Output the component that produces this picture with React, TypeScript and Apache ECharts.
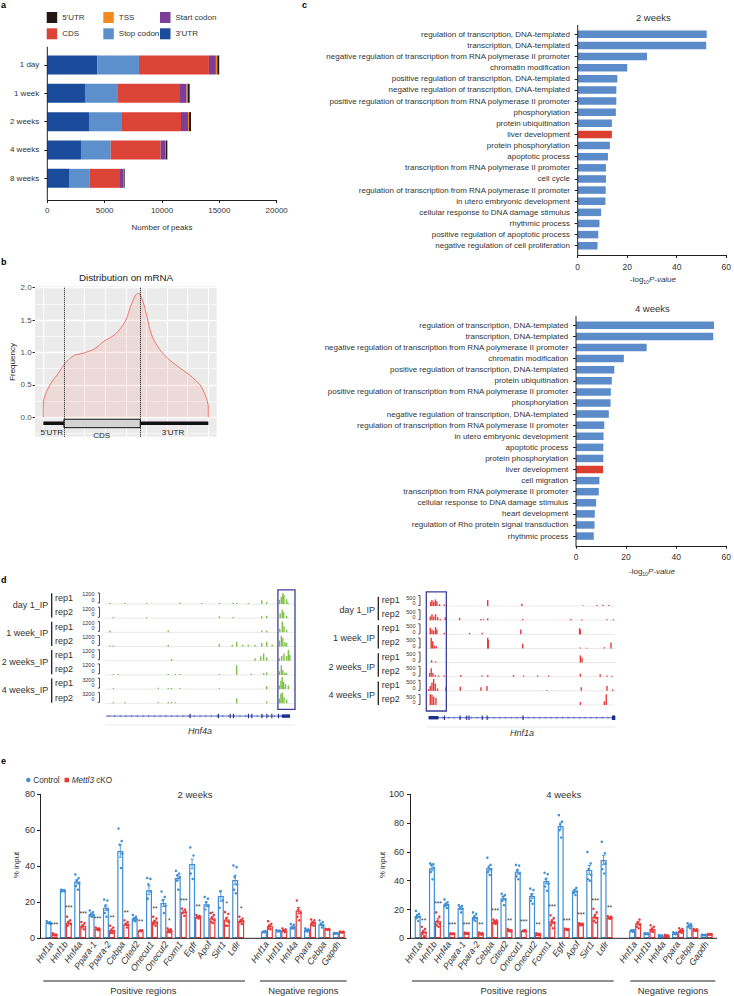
import React, { useEffect, useRef } from "react";
import * as echarts from "echarts";

const FONT = "'Liberation Sans', Arial, Helvetica, sans-serif";
const TXT = "#333333";
const INK = "#231f20";

/* ---------------- panel a : peaks per region ---------------- */
const peakGroups = ["1 day", "1 week", "2 weeks", "4 weeks", "8 weeks"];
const utr3Peaks = [4360, 3285, 3634, 2936, 1948];
const stopCodonPeaks = [3630, 2878, 2878, 2587, 1715];
const cdsPeaks = [6100, 5407, 5145, 4361, 2674];
const startCodonPeaks = [610, 581, 610, 378, 291];
const tssPeaks = [120, 87, 88, 58, 29];
const utr5Peaks = [170, 175, 174, 145, 87];
const peakAxisMax = 20000;
const peakAxisStep = 5000;

/* ---------------- panel b : distribution on mRNA ---------------- */
const densityX = [0, 0, 0.32, 0.73, 1.0, 1.46, 1.94, 2.5, 2.92, 3.48, 3.97, 4.29, 4.57, 4.69, 4.93, 5.25, 5.66, 6.14, 6.63, 7.1, 7.6, 7.85, 8.0, 8.0];
const densityY = [0, 0.22, 0.5, 0.68, 0.81, 0.95, 0.99, 1.06, 1.17, 1.28, 1.48, 1.76, 1.91, 1.9, 1.68, 1.27, 1.04, 0.88, 0.76, 0.65, 0.5, 0.34, 0.16, 0];
const mrnaBounds = [0, 1, 4.7, 8]; // transcript start, CDS start, CDS end, transcript end
const densityTicks = [0, 0.5, 1, 1.5, 2];

/* ---------------- panel c : GO terms ---------------- */
const go2wTerms = [
  "regulation of transcription, DNA-templated",
  "transcription, DNA-templated",
  "negative regulation of transcription from RNA polymerase II promoter",
  "chromatin modification",
  "positive regulation of transcription, DNA-templated",
  "negative regulation of transcription, DNA-templated",
  "positive regulation of transcription from RNA polymerase II promoter",
  "phosphorylation",
  "protein ubiquitination",
  "liver development",
  "protein phosphorylation",
  "apoptotic process",
  "transcription from RNA polymerase II promoter",
  "cell cycle",
  "regulation of transcription from RNA polymerase II promoter",
  "in utero embryonic development",
  "cellular response to DNA damage stimulus",
  "rhythmic process",
  "positive regulation of apoptotic process",
  "negative regulation of cell proliferation",
];
const go2wValues = [52.1, 51.9, 28.0, 20.0, 16.0, 15.6, 15.6, 15.4, 13.8, 13.8, 13.0, 12.2, 11.4, 11.4, 11.3, 11.2, 9.45, 8.8, 8.3, 8.0];
const go4wTerms = [
  "regulation of transcription, DNA-templated",
  "transcription, DNA-templated",
  "negative regulation of transcription from RNA polymerase II promoter",
  "chromatin modification",
  "positive regulation of transcription, DNA-templated",
  "protein ubiquitination",
  "positive regulation of transcription from RNA polymerase II promoter",
  "phosphorylation",
  "negative regulation of transcription, DNA-templated",
  "regulation of transcription from RNA polymerase II promoter",
  "in utero embryonic development",
  "apoptotic process",
  "protein phosphorylation",
  "liver development",
  "cell migration",
  "transcription from RNA polymerase II promoter",
  "cellular response to DNA damage stimulus",
  "heart development",
  "regulation of Rho protein signal transduction",
  "rhythmic process",
];
const go4wValues = [55.1, 54.8, 28.2, 19.1, 15.3, 14.3, 13.9, 13.8, 13.1, 11.3, 11.0, 10.9, 10.9, 10.8, 9.35, 9.1, 8.05, 7.5, 7.4, 7.1];
const highlightTerm = "liver development";
const goAxisMax = 60;
const goAxisStep = 20;

/* ---------------- panel d : genome tracks ---------------- */
const trackLabels = ["day 1_IP", "1 week_IP", "2 weeks_IP", "4 weeks_IP"];
const repLabels = ["rep1", "rep2"];
const hnf4aScales = ["1200", "1200", "1200", "1200", "1200", "1200", "3200", "3200"];
const hnf1aScales = ["500", "500", "500", "500", "500", "500", "500", "500"];
// [position 0-100 along locus, relative height]
const hnf4aTracks: [number, number][][] = [
  [[2.6, 0.08], [10.5, 0.08], [21.9, 0.08], [39.5, 0.1], [50.9, 0.08], [60.2, 0.08], [67.5, 0.1], [69.3, 0.08], [75.4, 0.08], [82.5, 0.3], [85.1, 0.15], [91.8, 0.35], [92.8, 0.6], [93.6, 0.9], [94.2, 0.75], [95.6, 0.4], [96.3, 0.1]],
  [[4.4, 0.1], [21.9, 0.08], [60.2, 0.15], [67.5, 0.1], [82.5, 0.15], [85.1, 0.2], [92.2, 0.4], [93.3, 0.7], [94.0, 0.5], [95.6, 0.2]],
  [[2.6, 0.15], [33.3, 0.15], [82.5, 0.15], [85.1, 0.15], [92.0, 0.3], [93.3, 0.9], [94.2, 0.5], [95.6, 0.2]],
  [[2.6, 0.1], [4.4, 0.1], [33.3, 0.15], [60.2, 0.2], [67.0, 0.15], [69.3, 0.4], [72.5, 0.15], [75.4, 0.15], [78.9, 0.15], [82.5, 0.3], [85.1, 0.4], [88.0, 0.15], [91.8, 0.5], [92.8, 0.9], [93.6, 0.7], [94.7, 0.35], [95.6, 0.3]],
  [[35.0, 0.15], [79.0, 0.2], [82.0, 0.35], [83.5, 0.6], [85.1, 0.3], [91.8, 0.2], [93.0, 0.4], [94.2, 0.6], [95.6, 0.4], [96.5, 0.9], [97.3, 0.5]],
  [[4.4, 0.08], [7.0, 0.08], [33.3, 0.08], [37.0, 0.08], [39.5, 0.08], [60.2, 0.08], [69.3, 0.8], [77.0, 0.1], [83.5, 0.15], [85.1, 0.2], [91.8, 0.3], [92.8, 0.8], [93.6, 0.4], [94.7, 0.2], [95.6, 0.15]],
  [[4.4, 0.08], [28.0, 0.12], [33.3, 0.1], [35.0, 0.1], [39.5, 0.1], [60.2, 0.08], [85.1, 0.25], [91.8, 0.3], [92.6, 0.7], [93.3, 1.0], [94.0, 0.6], [95.0, 0.4], [96.5, 0.3]],
  [[4.4, 0.08], [10.5, 0.08], [28.0, 0.1], [33.3, 0.12], [35.0, 0.12], [37.0, 0.08], [69.3, 0.4], [85.1, 0.15], [91.8, 0.4], [92.6, 0.8], [93.3, 0.9], [94.2, 0.5], [95.6, 0.3]],
];
const hnf1aTracks: [number, number][][] = [
  [[2.3, 0.35], [3.0, 0.5], [3.9, 0.35], [4.8, 0.55], [5.6, 0.4], [7.0, 0.15], [9.5, 0.12], [32.5, 0.5], [50.6, 0.2], [82.9, 0.05], [90.3, 0.08], [93.5, 0.1], [96.5, 0.08]],
  [[2.1, 0.3], [3.0, 0.5], [3.9, 0.3], [4.9, 0.5], [6.0, 0.25], [7.4, 0.1], [10.0, 0.25], [17.6, 0.2], [28.9, 0.1], [30.3, 0.08], [32.5, 0.15], [51.0, 0.1], [76.5, 0.1], [82.4, 0.08], [95.6, 0.08], [99.0, 0.08]],
  [[2.1, 0.55], [3.0, 0.4], [3.9, 0.3], [4.9, 0.6], [5.6, 0.4], [9.5, 0.12], [22.9, 0.12], [29.5, 0.12], [50.0, 0.4], [81.1, 0.5], [81.5, 0.4]],
  [[2.6, 0.9], [3.4, 0.6], [4.2, 0.25], [5.3, 0.2], [32.5, 0.9], [32.8, 0.7], [51.0, 0.4], [81.5, 0.08], [85.0, 0.05], [94.2, 0.1], [97.7, 0.5]],
  [[2.8, 0.2], [4.9, 0.1], [81.5, 0.6], [82.4, 0.4]],
  [[1.8, 0.3], [2.6, 0.7], [3.5, 0.3], [4.8, 0.15], [6.5, 0.1], [9.5, 0.1], [18.3, 0.15], [29.5, 0.1], [32.5, 0.15], [46.2, 0.15], [51.5, 0.1], [58.9, 0.1], [64.7, 0.1], [81.5, 0.25], [92.0, 0.2], [95.6, 0.1], [98.2, 0.08]],
  [[1.2, 0.15], [2.1, 0.4], [3.0, 0.7], [3.9, 1.0], [4.8, 0.6], [6.0, 0.2], [10.4, 0.3], [18.0, 0.35], [28.9, 0.3], [32.1, 0.4], [63.8, 0.08], [82.0, 0.3], [95.6, 0.4], [98.6, 0.12]],
  [[2.1, 0.9], [3.0, 0.85], [3.9, 0.7], [5.1, 0.6], [81.5, 0.25], [94.2, 0.3], [95.2, 0.9]],
];
const hnf4aSpan = [0.5, 97.4];
const hnf4aExons = [[44.5, 45.0], [59.4, 59.9], [65.6, 66.1], [67.3, 67.8], [75.2, 75.7], [77.0, 77.5], [82.3, 82.8], [84.9, 85.4], [87.5, 88.0], [91.0, 91.5], [93.0, 97.4]];
const hnf1aSpan = [1.2, 100];
const hnf1aExons = [[1.2, 6.5], [9.3, 9.9], [17.6, 18.2], [21.1, 21.6], [22.3, 22.8], [29.3, 29.8], [31.9, 32.4], [50.9, 51.4], [98.2, 100]];
const hnf4aHighlight = [91, 100];
const hnf1aHighlight = [0, 10.6];

/* ---------------- panel e : ChIP-qPCR ---------------- */
const posGenes = ["Hnf1a", "Hnf1b", "Hnf4a", "Ppara-1", "Ppara-2", "Cebpa", "Cited2", "Onecut1", "Onecut2", "Foxm1", "Egfr", "Apof", "Sirt1", "Ldlr"];
const negGenes = ["Hnf1a", "Hnf1b", "Hnf4a", "Ppara", "Cebpa", "Gapdh"];
const ctrl2w = [8.7, 26.5, 31.5, 13.5, 17.0, 48.5, 11.1, 26.7, 19.6, 33.5, 41.3, 18.9, 23.5, 32.4, 3.7, 4.1, 6.5, 4.6, 7.8, 2.8];
const ko2w = [2.2, 8.7, 7.0, 5.2, 4.6, 7.8, 4.3, 9.3, 4.3, 14.8, 11.9, 11.1, 10.4, 9.8, 6.9, 4.4, 15.4, 8.7, 5.0, 3.5];
const ctrl4w = [15.5, 48.6, 23.6, 20.8, 14.8, 48.6, 27.8, 46.3, 29.4, 39.8, 78.0, 33.1, 47.5, 54.4, 5.3, 3.2, 1.8, 3.5, 8.8, 2.3];
const ko4w = [4.6, 12.0, 3.2, 3.5, 3.2, 11.6, 5.6, 5.3, 2.8, 11.6, 6.2, 9.7, 15.0, 14.4, 10.4, 6.5, 1.8, 5.3, 5.8, 2.8];
const ctrl2wReps = [
  [9.5, 9, 8.5, 8, 8.8, 8.4], [27, 26.8, 26.5, 26.2, 26, 26.6], [35.5, 33.5, 32, 30.5, 29, 27], [15.5, 14.5, 13.5, 13, 12.5, 12],
  [21.5, 21, 18, 16, 14, 12], [61, 54, 52, 47, 40, 39], [13, 12, 11, 10.5, 10, 9.5], [33.5, 33, 30, 26, 22, 19],
  [26, 23, 21, 18, 15, 14], [37.5, 36, 35, 34, 32, 27], [50.5, 46, 44, 40, 36, 33], [23, 22, 20, 18, 16, 15],
  [31.5, 31.5, 26, 21, 17, 15], [40.5, 39.5, 34, 30, 27, 25], [4.2, 4, 3.8, 3.6, 3.4, 3.3], [4.5, 4.3, 4.1, 4, 3.9, 3.8],
  [8, 7.5, 6.5, 6, 5.5, 5.5], [5.5, 5, 4.7, 4.4, 4, 3.8], [10, 9, 8, 7, 6.5, 6], [3, 2.9, 2.8, 2.7, 2.6, 2.5],
];
const ko2wReps = [
  [2.8, 2.5, 2.2, 2, 1.8, 1.6], [12, 10, 9, 8, 7, 6.5], [9, 8.5, 7, 6.5, 6, 5], [6, 5.5, 5.2, 5, 4.8, 4.5],
  [7, 6, 4.5, 4, 3, 3], [10, 9, 8, 7.5, 6.5, 6], [4.8, 4.5, 4.3, 4.2, 4, 3.9], [12, 11, 9.5, 8.5, 8, 7],
  [5.5, 5, 4.5, 4, 3.5, 3.3], [16.5, 16, 15, 14.5, 14, 12.5], [13, 12.5, 12, 11.8, 11.5, 11], [14, 13, 11.5, 10, 9, 8.5],
  [14.5, 13.5, 11, 9, 7, 7], [12, 11, 10, 9.5, 9, 8], [9.5, 8, 7, 6.5, 5.5, 5], [5.5, 5, 4.5, 4.2, 4, 3.5],
  [21, 19, 16, 14, 12, 10], [10.5, 10, 9, 8.5, 7.5, 7], [5.3, 5.2, 5, 4.9, 4.8, 4.7], [3.8, 3.7, 3.5, 3.4, 3.3, 3.2],
];
const ctrl4wReps = [
  [19, 17, 16, 15, 14, 12], [52, 51.5, 51, 49, 46, 41], [27, 25, 24, 23, 22.5, 21], [23, 22.5, 21.5, 20.5, 19.5, 18],
  [18, 17, 15, 14, 13, 12], [56, 51, 49, 48, 46, 44], [31, 30, 29, 27, 26, 23], [51, 50.5, 47, 45, 43, 41],
  [34.5, 33.5, 30, 28, 26, 24], [45.5, 44.5, 41, 38, 36, 33], [85.5, 81, 79, 77, 75, 70], [36.5, 35, 33.5, 32.5, 31.5, 30],
  [60, 52, 48, 44, 41, 40], [67, 59, 55, 52, 48, 45], [6, 5.8, 5.5, 5.2, 5, 4.5], [3.6, 3.4, 3.2, 3.1, 3, 2.9],
  [2.2, 2, 1.9, 1.7, 1.6, 1.5], [4.2, 4, 3.6, 3.4, 3, 2.8], [10.5, 10, 9, 8.5, 8, 7], [2.5, 2.4, 2.3, 2.3, 2.2, 2.1],
];
const ko4wReps = [
  [8, 6.5, 5, 4, 3, 1.5], [18, 15, 12, 10, 9, 8], [3.5, 3.4, 3.2, 3.1, 3, 2.9], [4, 3.8, 3.5, 3.4, 3.2, 3.1],
  [4, 3.6, 3.3, 3, 2.8, 2.5], [13, 12.5, 12, 11.5, 10.5, 10], [6.5, 6, 5.7, 5.5, 5.2, 4.8], [6, 5.7, 5.4, 5.2, 5, 4.7],
  [3.5, 3.2, 2.9, 2.6, 2.4, 2.2], [16, 14, 12, 11, 9, 7], [6.8, 6.5, 6.3, 6.1, 6, 5.8], [10.5, 10.2, 9.8, 9.5, 9.3, 9],
  [20.5, 18, 15.5, 14, 12, 11], [15.5, 15, 14.5, 14.2, 14, 13.5], [14.5, 13, 11, 9.5, 8, 7], [9, 8, 6.5, 6, 5, 4.5],
  [2.4, 2.1, 1.9, 1.7, 1.5, 1.3], [7, 6.5, 5.5, 5, 4.5, 3.8], [6.5, 6.2, 5.9, 5.7, 5.5, 5.2], [3, 2.9, 2.8, 2.8, 2.7, 2.6],
];
const stars2w = ["***", "***", "***", "***", "**", "**", "**", "**", "*", "***", "**", "*", "*", "*"];
const stars2wY = [8.7, 18.1, 14.8, 11.7, 12.4, 15.3, 10.2, 17.6, 10.7, 21.7, 18.5, 14.8, 20.4, 17.6];
const stars4w = ["**", "***", "***", "***", "**", "***", "**", "***", "**", "***", "***", "***", "***", "**"];
const stars4wY = [13.4, 25.4, 10.8, 10.9, 10.9, 20.1, 13.4, 12.7, 10.4, 23.1, 13.4, 17.4, 27.3, 22.7];

/* ---------------- styling ---------------- */
const regionColors: Record<string, string> = {
  "3'UTR": "#1b4c9b",
  "Stop codon": "#5b90cc",
  CDS: "#dc4437",
  "Start codon": "#7b3f98",
  TSS: "#f28a1f",
  "5'UTR": "#231815",
};
const GO_BLUE = "#5b8bc8";
const GO_RED = "#dc3f2f";
const CTRL = "#3f8fd8";
const KO = "#e8393a";
const JITTER = [-1.8, 1.4, -0.6, 2.0, -1.2, 0.6];

const sem = (a: number[]) => {
  const m = a.reduce((s, v) => s + v, 0) / a.length;
  const sd = Math.sqrt(a.reduce((s, v) => s + (v - m) * (v - m), 0) / (a.length - 1));
  return sd / Math.sqrt(a.length);
};

function buildOption(): any {
  const g: any[] = [];
  const T = (x: number, y: number, text: string, s: any = {}, extra: any = {}) =>
    g.push({ type: "text", x, y, z: 20, ...extra, style: { text, fontFamily: FONT, fontSize: 8, fill: TXT, align: "left", verticalAlign: "middle", ...s } });
  const L = (x1: number, y1: number, x2: number, y2: number, s: any = {}) =>
    g.push({ type: "line", z: 20, shape: { x1, y1, x2, y2 }, style: { stroke: INK, lineWidth: 1, ...s } });
  const R = (x: number, y: number, width: number, height: number, s: any, z = 20) =>
    g.push({ type: "rect", z, shape: { x, y, width, height }, style: s });

  // panel letters
  [["a", 1, 5], ["b", 1, 262], ["c", 302, 5], ["d", 1, 580], ["e", 1, 761]].forEach(([t, x, y]) =>
    T(x as number, y as number, t as string, { fontWeight: "bold", fontSize: 9, fill: "#000" })
  );

  /* ---- a legend ---- */
  const legendA: [string, number, number][] = [
    ["5'UTR", 46.7, 17.5], ["TSS", 103.3, 17.5], ["Start codon", 160, 17.5],
    ["CDS", 46.7, 33.8], ["Stop codon", 103.3, 33.8], ["3'UTR", 160, 33.8],
  ];
  legendA.forEach(([name, x, y]) => {
    R(x, y - 5.5, 10.5, 11, { fill: regionColors[name] });
    T(x + 15.5, y, name, { fontSize: 8 });
  });
  L(47.3, 46.7, 47.3, 200.3);

  /* ---- b decorations ---- */
  R(35, 286.3, 181.7, 150.4, { fill: "#ebebeb" }, -10);
  T(126, 277, "Distribution on mRNA", { fontSize: 9.8, align: "center", fill: "#222" });
  T(12, 362, "Frequency", { fontSize: 8, align: "center", fill: "#222" }, { rotation: Math.PI / 2 });
  T(51.7, 432.7, "5'UTR", { fontSize: 8, align: "center", fill: "#222" });
  T(101.7, 435.7, "CDS", { fontSize: 8, align: "center", fill: "#222" });
  T(173, 432.7, "3'UTR", { fontSize: 8, align: "center", fill: "#222" });

  /* ---- c decorations ---- */
  const axisName = (x: number, y: number) =>
    g.push({
      type: "text", x, y, z: 20,
      style: {
        text: "{n|-log}{s|10}{i|P-value}", align: "center", verticalAlign: "middle",
        rich: {
          n: { fontFamily: FONT, fontSize: 8, fill: TXT },
          s: { fontFamily: FONT, fontSize: 5, fill: TXT, padding: [5, 0, 0, 0] },
          i: { fontFamily: FONT, fontSize: 8, fill: TXT, fontStyle: "italic" },
        },
      },
    });
  T(653.3, 17.7, "2 weeks", { fontSize: 9.5, align: "center" });
  L(577.7, 25, 577.7, 255.3);
  axisName(653, 279.3);
  T(652.3, 308.3, "4 weeks", { fontSize: 9.5, align: "center" });
  L(576, 316, 576, 546.3);
  axisName(652, 571);

  /* ---- d decorations ---- */
  const leftBase = (k: number) => 589.8 + 14.19 * (k + 1);
  const rightBase = (k: number) => 591.9 + 14.14 * (k + 1);
  for (let gi = 0; gi < 4; gi++) {
    const a = 2 * gi, b = 2 * gi + 1;
    T(48.3, leftBase(a) + 1, trackLabels[gi], { fontSize: 9, align: "right" });
    L(51.7, leftBase(a) - 10.7, 51.7, leftBase(b) - 0.6, { lineWidth: 1.3 });
    T(375, rightBase(a) + 4, trackLabels[gi], { fontSize: 9, align: "right" });
    L(378.3, rightBase(a) - 9.3, 378.3, rightBase(b), { lineWidth: 1.3 });
  }
  for (let k = 0; k < 8; k++) {
    const lb = leftBase(k), rb = rightBase(k);
    T(55, lb - 5.8, repLabels[k % 2], { fontSize: 9 });
    T(94.5, lb - 9.5, hnf4aScales[k], { fontSize: 5.5, align: "right" });
    T(94.5, lb - 4.3, "0", { fontSize: 5.5, align: "right" });
    L(99.5, lb - 11, 99.5, lb - 1, { lineWidth: 0.8 });
    L(97.8, lb - 11, 99.5, lb - 11, { lineWidth: 0.8 });
    L(97.8, lb - 1, 99.5, lb - 1, { lineWidth: 0.8 });
    T(381.7, rb - 6, repLabels[k % 2], { fontSize: 9 });
    T(415.5, rb - 8.5, hnf1aScales[k], { fontSize: 5.5, align: "right" });
    T(415.5, rb - 2.8, "0", { fontSize: 5.5, align: "right" });
    L(420, rb - 10.5, 420, rb - 0.5, { lineWidth: 0.8 });
    L(418.3, rb - 10.5, 420, rb - 10.5, { lineWidth: 0.8 });
    L(418.3, rb - 0.5, 420, rb - 0.5, { lineWidth: 0.8 });
  }
  T(200, 730.7, "Hnf4a", { fontSize: 9, align: "center", fontStyle: "italic" });
  T(522, 732.7, "Hnf1a", { fontSize: 9, align: "center", fontStyle: "italic" });
  L(105, 725, 295, 725, { stroke: "#e6e6e6", lineWidth: 0.8 });
  L(426.3, 727, 615.3, 727, { stroke: "#e6e6e6", lineWidth: 0.8 });

  /* ---- e decorations ---- */
  g.push({ type: "circle", z: 20, shape: { cx: 28.3, cy: 780, r: 2.2 }, style: { fill: CTRL } });
  T(33.3, 780, "Control", { fontSize: 8.2 });
  R(64.5, 777.8, 4.5, 4.5, { fill: KO });
  g.push({
    type: "text", x: 71.7, y: 780, z: 20,
    style: {
      text: "{i|Mettl3}{n| cKO}", verticalAlign: "middle",
      rich: { i: { fontFamily: FONT, fontSize: 8.2, fontStyle: "italic", fill: TXT }, n: { fontFamily: FONT, fontSize: 8.2, fill: TXT } },
    },
  });
  T(195, 794.3, "2 weeks", { fontSize: 9.5, align: "center" });
  T(563.7, 794.3, "4 weeks", { fontSize: 9.5, align: "center" });
  T(16.7, 865, "% input", { fontSize: 8, align: "center" }, { rotation: Math.PI / 2 });
  T(382, 865, "% input", { fontSize: 8, align: "center" }, { rotation: Math.PI / 2 });
  L(40, 938.3, 346.7, 938.3);
  L(410, 938.3, 717, 938.3);
  L(43.3, 981, 245, 981);
  T(143.3, 990, "Positive regions", { fontSize: 9.4, align: "center" });
  L(260, 981, 346.7, 981);
  T(303.3, 990, "Negative regions", { fontSize: 9.4, align: "center" });
  L(412, 981, 613.7, 981);
  T(513.7, 990, "Positive regions", { fontSize: 9.4, align: "center" });
  L(630.3, 981, 715.3, 981);
  T(673, 990, "Negative regions", { fontSize: 9.4, align: "center" });

  /* ---------------- grids ---------------- */
  const grid = [
    { left: 47.3, top: 50.8, width: 229.4, height: 141.7 }, // a
    { left: 22.7, top: 287.7, width: 206.25, height: 162 }, // b
    { left: 577.7, top: 28.7, width: 152.3, height: 222.6 }, // c 2w
    { left: 576, top: 319.8, width: 154, height: 221.8 }, // c 4w
    { left: 105, top: 589.8, width: 190, height: 113.5 }, // d left
    { left: 426.3, top: 591.9, width: 189, height: 113.1 }, // d right
    { left: 44.3, top: 794.3, width: 301.6, height: 144 }, // e 2w
    { left: 413.5, top: 794.3, width: 300.3, height: 144 }, // e 4w
  ];

  const lbl = (o: any = {}) => ({ fontFamily: FONT, fontSize: 8, color: TXT, ...o });
  const hidden = (gridIndex: number, o: any = {}) => ({
    gridIndex, type: "value", axisLine: { show: false, onZero: false }, axisTick: { show: false }, axisLabel: { show: false }, splitLine: { show: false }, ...o,
  });
  const chipCats = [...posGenes, "", ...negGenes];

  const xAxis: any[] = [
    {
      gridIndex: 0, type: "value", min: 0, max: peakAxisMax, interval: peakAxisStep, offset: 7.5,
      axisLine: { show: true, onZero: false, lineStyle: { color: INK } },
      axisTick: { show: true, length: 3, lineStyle: { color: INK } },
      axisLabel: lbl({ margin: 6.5, formatter: (v: number) => String(v) }), splitLine: { show: false },
      name: "Number of peaks", nameLocation: "middle", nameGap: 23, nameTextStyle: lbl(),
    },
    hidden(1, { min: -1, max: 9, interval: 1, splitLine: { show: true, lineStyle: { color: "#ffffff", width: 1 } } }),
    {
      gridIndex: 2, type: "value", min: 0, max: goAxisMax, interval: goAxisStep, offset: 3.7,
      axisLine: { show: true, onZero: false, lineStyle: { color: INK } },
      axisTick: { show: true, length: 3, lineStyle: { color: INK } },
      axisLabel: lbl({ fontSize: 8.5, margin: 7 }), splitLine: { show: false },
    },
    {
      gridIndex: 3, type: "value", min: 0, max: goAxisMax, interval: goAxisStep, offset: 4.2,
      axisLine: { show: true, onZero: false, lineStyle: { color: INK } },
      axisTick: { show: true, length: 3, lineStyle: { color: INK } },
      axisLabel: lbl({ fontSize: 8.5, margin: 7 }), splitLine: { show: false },
    },
    hidden(4, { min: 0, max: 100 }),
    hidden(5, { min: 0, max: 100 }),
    {
      gridIndex: 6, type: "category", data: chipCats,
      axisLine: { show: false }, axisTick: { show: false },
      axisLabel: lbl({ fontSize: 9, fontStyle: "italic", rotate: 55, interval: 0, margin: 4 }),
    },
    {
      gridIndex: 7, type: "category", data: chipCats,
      axisLine: { show: false }, axisTick: { show: false },
      axisLabel: lbl({ fontSize: 9, fontStyle: "italic", rotate: 55, interval: 0, margin: 4 }),
    },
  ];

  const yAxis: any[] = [
    {
      gridIndex: 0, type: "category", data: peakGroups, inverse: true,
      axisLine: { show: false }, axisTick: { show: true, alignWithLabel: true, length: 3, lineStyle: { color: INK } },
      axisLabel: lbl({ margin: 8 }),
    },
    hidden(1, {
      position: "left",
      min: -0.5, max: 2, interval: 0.5,
      splitLine: { show: true, lineStyle: { color: "#ffffff", width: 1.4 } },
      minorTick: { show: false, splitNumber: 2 },
      minorSplitLine: { show: true, lineStyle: { color: "#ffffff", width: 0.6 } },
    }),
    {
      gridIndex: 1, type: "value", position: "left", min: -0.5, max: 2, interval: 0.5, offset: -12.3, z: 5,
      axisLine: { show: false, onZero: false },
      axisTick: { show: true, length: 2.5, customValues: densityTicks, lineStyle: { color: "#333" } },
      axisLabel: lbl({ color: "#4d4d4d", margin: 3.3, customValues: densityTicks, formatter: (v: number) => v.toFixed(1) }),
      splitLine: { show: false },
    },
    {
      gridIndex: 2, type: "category", data: go2wTerms, inverse: true,
      axisLine: { show: false }, axisTick: { show: true, alignWithLabel: true, length: 3, lineStyle: { color: INK } },
      axisLabel: lbl({ margin: 7.7, interval: 0 }),
    },
    {
      gridIndex: 3, type: "category", data: go4wTerms, inverse: true,
      axisLine: { show: false }, axisTick: { show: true, alignWithLabel: true, length: 3, lineStyle: { color: INK } },
      axisLabel: lbl({ margin: 7.7, interval: 0 }),
    },
    hidden(4, { min: 0, max: 8, inverse: true }),
    hidden(5, { min: 0, max: 8, inverse: true }),
    {
      gridIndex: 6, type: "value", min: 0, max: 80, interval: 20, offset: 4.3,
      axisLine: { show: true, onZero: false, lineStyle: { color: INK } },
      axisTick: { show: true, length: 3, lineStyle: { color: INK } },
      axisLabel: lbl({ fontSize: 9, margin: 5 }), splitLine: { show: false },
    },
    {
      gridIndex: 7, type: "value", min: 0, max: 100, interval: 20, offset: 3.5,
      axisLine: { show: true, onZero: false, lineStyle: { color: INK } },
      axisTick: { show: true, length: 3, lineStyle: { color: INK } },
      axisLabel: lbl({ fontSize: 9, margin: 6 }), splitLine: { show: false },
    },
  ];

  const series: any[] = [];

  /* a: stacked bars */
  const aSeries: [string, number[]][] = [
    ["3'UTR", utr3Peaks], ["Stop codon", stopCodonPeaks], ["CDS", cdsPeaks],
    ["Start codon", startCodonPeaks], ["TSS", tssPeaks], ["5'UTR", utr5Peaks],
  ];
  aSeries.forEach(([name, data]) =>
    series.push({ type: "bar", name, stack: "peaks", xAxisIndex: 0, yAxisIndex: 0, barWidth: 19, data, itemStyle: { color: regionColors[name] } })
  );

  /* b: density */
  series.push({
    type: "line", xAxisIndex: 1, yAxisIndex: 1, smooth: 0.3, symbol: "none",
    data: densityX.map((x, i) => [x, densityY[i]]),
    lineStyle: { color: "#f2766b", width: 1 },
    areaStyle: { color: "rgba(242,118,107,0.2)" },
    markLine: {
      silent: true, symbol: "none", label: { show: false },
      lineStyle: { color: "#111", type: "dotted", width: 1 },
      data: [
        [{ coord: [mrnaBounds[1], -0.3] }, { coord: [mrnaBounds[1], 2] }],
        [{ coord: [mrnaBounds[2], -0.3] }, { coord: [mrnaBounds[2], 2] }],
      ],
    },
    z: 3,
  });
  series.push({
    type: "custom", xAxisIndex: 1, yAxisIndex: 1, clip: false, z: 4,
    data: [[mrnaBounds[0], 0]],
    renderItem: (_p: any, api: any) => {
      const a = api.coord([mrnaBounds[0], -0.093]);
      const b = api.coord([mrnaBounds[3], -0.093]);
      const c1 = api.coord([mrnaBounds[1], -0.03]);
      const c2 = api.coord([mrnaBounds[2], -0.16]);
      return {
        type: "group",
        children: [
          { type: "line", shape: { x1: a[0], y1: a[1], x2: b[0], y2: b[1] }, style: { stroke: "#111", lineWidth: 3.5 } },
          { type: "rect", shape: { x: c1[0], y: c1[1], width: c2[0] - c1[0], height: c2[1] - c1[1] }, style: { fill: "#d4d4d4", stroke: "#111", lineWidth: 1 } },
        ],
      };
    },
  });

  /* c: GO bars */
  series.push({
    type: "bar", xAxisIndex: 2, yAxisIndex: 3, barWidth: 7.5,
    data: go2wValues.map((v, i) => ({ value: v, itemStyle: { color: go2wTerms[i] === highlightTerm ? GO_RED : GO_BLUE } })),
  });
  series.push({
    type: "bar", xAxisIndex: 3, yAxisIndex: 4, barWidth: 7.5,
    data: go4wValues.map((v, i) => ({ value: v, itemStyle: { color: go4wTerms[i] === highlightTerm ? GO_RED : GO_BLUE } })),
  });

  /* d: tracks */
  const trackSeries = (xi: number, yi: number, tracks: [number, number][][], color: string, span: number[], exons: number[][], hl: number[]) => {
    series.push({
      type: "custom", xAxisIndex: xi, yAxisIndex: yi, clip: false, z: 2,
      data: tracks.map((_t, k) => [0, k]),
      renderItem: (_p: any, api: any) => {
        const k = api.value(1);
        const a = api.coord([0, k + 1]);
        const b = api.coord([100, k + 1]);
        return { type: "line", shape: { x1: a[0], y1: a[1], x2: b[0], y2: b[1] }, style: { stroke: "#d9d9d9", lineWidth: 0.6 } };
      },
    });
    series.push({
      type: "custom", xAxisIndex: xi, yAxisIndex: yi, clip: false, z: 3,
      data: tracks.flatMap((peaks, k) => peaks.map(([p, h]) => [p, k, h])),
      renderItem: (_p: any, api: any) => {
        const p = api.value(0), k = api.value(1), h = api.value(2);
        const b = api.coord([p, k + 1]);
        const t = api.coord([p, k + 1 - h * 0.85]);
        return { type: "rect", shape: { x: b[0] - 0.7, y: t[1], width: 1.4, height: Math.max(0.6, b[1] - t[1]) }, style: { fill: color } };
      },
    });
    series.push({
      type: "custom", xAxisIndex: xi, yAxisIndex: yi, clip: false, z: 3,
      data: [[span[0], span[1]]],
      renderItem: (_p: any, api: any) => {
        const a = api.coord([span[0], 8.9]);
        const b = api.coord([span[1], 8.9]);
        const children: any[] = [{ type: "line", shape: { x1: a[0], y1: a[1], x2: b[0], y2: b[1] }, style: { stroke: "#3346a8", lineWidth: 0.8 } }];
        for (let x = a[0] + 3; x < b[0] - 2; x += 5.7) {
          children.push({ type: "polyline", shape: { points: [[x - 0.8, a[1] - 1], [x + 0.6, a[1]], [x - 0.8, a[1] + 1]] }, style: { stroke: "#3346a8", lineWidth: 0.5, fill: "none" } });
        }
        return { type: "group", children };
      },
    });
    series.push({
      type: "custom", xAxisIndex: xi, yAxisIndex: yi, clip: false, z: 4,
      data: exons,
      renderItem: (_p: any, api: any) => {
        const a = api.coord([api.value(0), 8.9]);
        const b = api.coord([api.value(1), 8.9]);
        const w = Math.max(1.1, b[0] - a[0]);
        const hh = w > 4 ? 3.4 : 4.5;
        return { type: "rect", shape: { x: a[0], y: a[1] - hh / 2, width: w, height: hh }, style: { fill: "#1d2f8c" } };
      },
    });
    series.push({
      type: "custom", xAxisIndex: xi, yAxisIndex: yi, clip: false, z: 5,
      data: [[hl[0], hl[1]]],
      renderItem: (_p: any, api: any) => {
        const a = api.coord([hl[0], 0]);
        const b = api.coord([hl[1], 8]);
        return { type: "rect", shape: { x: a[0], y: a[1], width: b[0] - a[0], height: b[1] - a[1] + 6 }, style: { fill: "none", stroke: "#3b3f9c", lineWidth: 1.3 } };
      },
    });
  };
  trackSeries(4, 5, hnf4aTracks, "#7cbf45", hnf4aSpan, hnf4aExons, hnf4aHighlight);
  trackSeries(5, 6, hnf1aTracks, "#e8393a", hnf1aSpan, hnf1aExons, hnf1aHighlight);

  /* e: ChIP bars */
  const catIdx = (i: number) => (i < posGenes.length ? i : i + 1);
  const withGap = (arr: number[]) => [...arr.slice(0, posGenes.length), null, ...arr.slice(posGenes.length)];
  const chip = (xi: number, yi: number, ctrl: number[], ko: number[], ctrlReps: number[][], koReps: number[][], stars: string[], starsY: number[]) => {
    series.push({ type: "bar", xAxisIndex: xi, yAxisIndex: yi, barWidth: 6, barGap: "0%", data: withGap(ctrl), itemStyle: { color: "#ffffff", borderColor: CTRL, borderWidth: 1.2 }, z: 2 });
    series.push({ type: "bar", xAxisIndex: xi, yAxisIndex: yi, barWidth: 6, barGap: "0%", data: withGap(ko), itemStyle: { color: "#ffffff", borderColor: KO, borderWidth: 1.2 }, z: 2 });
    const errSeries = (means: number[], reps: number[][], color: string, dx: number) => {
      series.push({
        type: "custom", xAxisIndex: xi, yAxisIndex: yi, z: 4,
        data: means.map((m, i) => [catIdx(i), m, sem(reps[i])]),
        renderItem: (_p: any, api: any) => {
          const c = api.value(0), m = api.value(1), e = api.value(2);
          const p = api.coord([c, m + e]);
          const q = api.coord([c, Math.max(0, m - e)]);
          const x = p[0] + dx;
          return {
            type: "group",
            children: [
              { type: "line", shape: { x1: x, y1: p[1], x2: x, y2: q[1] }, style: { stroke: color, lineWidth: 0.9 } },
              { type: "line", shape: { x1: x - 1.6, y1: p[1], x2: x + 1.6, y2: p[1] }, style: { stroke: color, lineWidth: 0.9 } },
              { type: "line", shape: { x1: x - 1.6, y1: q[1], x2: x + 1.6, y2: q[1] }, style: { stroke: color, lineWidth: 0.9 } },
            ],
          };
        },
      });
      series.push({
        type: "custom", xAxisIndex: xi, yAxisIndex: yi, z: 5,
        data: reps.flatMap((r, i) => r.map((v, j) => [catIdx(i), v, j])),
        renderItem: (_p: any, api: any) => {
          const pt = api.coord([api.value(0), api.value(1)]);
          return { type: "circle", shape: { cx: pt[0] + dx + JITTER[api.value(2) % JITTER.length], cy: pt[1], r: 1.25 }, style: { fill: color } };
        },
      });
    };
    errSeries(ctrl, ctrlReps, CTRL, -3);
    errSeries(ko, koReps, KO, 3);
    series.push({
      type: "custom", xAxisIndex: xi, yAxisIndex: yi, z: 6,
      data: stars.map((s, i) => [catIdx(i), starsY[i], s]),
      renderItem: (params: any, api: any) => {
        const pt = api.coord([api.value(0), api.value(1)]);
        return { type: "text", x: pt[0] + 3, y: pt[1] + 1.5, style: { text: stars[params.dataIndex], fontFamily: FONT, fontSize: 6.5, fill: TXT, align: "center", verticalAlign: "middle" } };
      },
    });
  };
  chip(6, 7, ctrl2w, ko2w, ctrl2wReps, ko2wReps, stars2w, stars2wY);
  chip(7, 8, ctrl4w, ko4w, ctrl4wReps, ko4wReps, stars4w, stars4wY);

  return {
    animation: false,
    backgroundColor: "#ffffff",
    textStyle: { fontFamily: FONT },
    grid,
    xAxis,
    yAxis,
    series,
    graphic: { elements: g },
  };
}

export default function App() {
  const ref = useRef<HTMLDivElement>(null);
  useEffect(() => {
    const chart = echarts.init(ref.current!, undefined, { renderer: "svg", width: 734, height: 996 });
    chart.setOption(buildOption());
    return () => chart.dispose();
  }, []);
  return <div ref={ref} style={{ position: "absolute", left: 0, top: 0, width: 734, height: 996 }} />;
}
